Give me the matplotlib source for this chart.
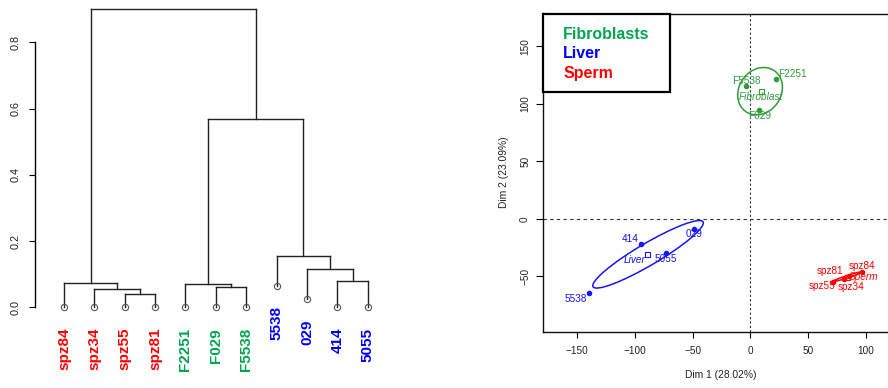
import matplotlib
matplotlib.use("Agg")
import matplotlib.pyplot as plt
from matplotlib.patches import Ellipse, Rectangle

plt.rcParams['font.family'] = ['Liberation Sans', 'DejaVu Sans']

# ---------------- Dendrogram data ----------------
leaf_labels = ["spz84", "spz34", "spz55", "spz81", "F2251", "F029", "F5538",
               "5538", "029", "414", "5055"]
leaf_groups = ["Sperm"] * 4 + ["Fibroblasts"] * 3 + ["Liver"] * 4
leaf_heights = [0, 0, 0, 0, 0, 0, 0, 0.065, 0.026, 0, 0]
# merges: (child_a, child_b, height); children are leaf names or "cN" cluster ids
merges = [
    ("spz55", "spz81", 0.039),   # c1
    ("spz34", "c1", 0.056),      # c2
    ("spz84", "c2", 0.0725),     # c3
    ("F029", "F5538", 0.061),    # c4
    ("F2251", "c4", 0.070),      # c5
    ("414", "5055", 0.0795),     # c6
    ("029", "c6", 0.116),        # c7
    ("5538", "c7", 0.155),       # c8
    ("c5", "c8", 0.568),         # c9
    ("c3", "c9", 0.900),         # c10 (root)
]
dend_ticks = [0.0, 0.2, 0.4, 0.6, 0.8]

# ---------------- PCA data ----------------
groups = ["Fibroblasts", "Liver", "Sperm"]
centroid_names = ["Fibroblast", "Liver", "Sperm"]
fib_names = ["F2251", "F5538", "F029"]
fib_x = [22.3, -4.0, 7.8]
fib_y = [121.8, 115.4, 94.3]
liv_names = ["414", "029", "5055", "5538"]
liv_x = [-95.0, -49.1, -72.8, -140.1]
liv_y = [-21.9, -8.9, -30.0, -64.7]
spz_names = ["spz84", "spz34", "spz81", "spz55"]
spz_x = [97.1, 86.0, 81.0, 72.0]
spz_y = [-46.2, -50.0, -52.0, -55.0]
centroid_x = [9.3, -89.3, 83.6]
centroid_y = [111.0, -30.6, -50.3]
# confidence ellipses: centre, width, height, angle
ell_cx = [8.5, -88.6, 84.1]
ell_cy = [111.0, -30.8, -50.3]
ell_w = [43.3, 110.8, 27.4]
ell_h = [36.4, 19.0, 2.0]
ell_ang = [55, 30.6, 18]
x_ticks = [-150, -100, -50, 0, 50, 100]
y_ticks = [-50, 0, 50, 100, 150]
x_label = "Dim 1 (28.02%)"
y_label = "Dim 2 (23.09%)"

# label offsets in pixels (dx, dy up)
fib_off = [(16, 5), (1, 5.5), (0, -6)]
liv_off = [(-10.5, 5), (0, -4.5), (0, -6), (-13, -5.5)]
spz_off = [(0, 6), (2, -10.5), (-14, 8), (-11, -3.5)]
cen_off = [(0, -6), (-12.5, -6), (17, -0.5)]

dend_colors = {"Sperm": "#FF0000", "Fibroblasts": "#00A550", "Liver": "#0000FF"}
pca_colors = {"Fibroblasts": "#2E9B3A", "Liver": "#1515FF", "Sperm": "#FF0000"}
legend_colors = {"Fibroblasts": "#00A550", "Liver": "#0000FF", "Sperm": "#FF0000"}

W, H = 888, 388
fig = plt.figure(figsize=(W / 100, H / 100), dpi=100)

def px_axes(left, top, right, bottom):
    return fig.add_axes([left / W, (H - bottom) / H, (right - left) / W, (bottom - top) / H])

# ================= Left: dendrogram =================
axd = px_axes(35, 9.3, 400, 307.3)
xpos = {name: i + 1 for i, name in enumerate(leaf_labels)}
ypos = {name: h for name, h in zip(leaf_labels, leaf_heights)}
lc = "#222222"
for k, (a, b, h) in enumerate(merges):
    cid = "c%d" % (k + 1)
    xa, xb = xpos[a], xpos[b]
    axd.plot([xa, xa], [ypos[a], h], color=lc, lw=1, clip_on=False)
    axd.plot([xb, xb], [ypos[b], h], color=lc, lw=1, clip_on=False)
    axd.plot([xa, xb], [h, h], color=lc, lw=1, clip_on=False)
    xpos[cid] = (xa + xb) / 2
    ypos[cid] = h
lx = [xpos[n] for n in leaf_labels]
axd.plot(lx, leaf_heights, 'o', ms=4.5, mfc='none', mec='#555555', mew=0.8, clip_on=False)
for n, g, x, h in zip(leaf_labels, leaf_groups, lx, leaf_heights):
    axd.annotate(n, (x, h), xytext=(0, -20.5), textcoords='offset pixels',
                 rotation=90, ha='center', va='top', fontsize=11,
                 fontweight='bold', color=dend_colors[g], annotation_clip=False)
axd.set_xlim(1 - (64 - 35) / 30.37, 11 + (400 - 367.7) / 30.37)
axd.set_ylim(0, 0.9)
for s in ['top', 'right', 'bottom']:
    axd.spines[s].set_visible(False)
axd.spines['left'].set_bounds(0, 0.8)
axd.spines['left'].set_linewidth(1)
axd.set_xticks([])
axd.set_yticks(dend_ticks)
axd.set_yticklabels(["%.1f" % t for t in dend_ticks], rotation=90, va='center', fontsize=7.8,
                    color='#222222')
axd.tick_params(axis='y', length=4.3, width=0.8, pad=6)

# ================= Right: PCA =================
axp = px_axes(543.3, 13.5, 897.7, 331.5)
axp.set_xlim(-179.4, 127.8)
axp.set_ylim(-97.9, 178.5)
axp.axhline(0, color='#333333', lw=0.8, ls=(0, (3, 3)), zorder=1)
axp.axvline(0, color='#333333', lw=0.8, ls=(0, (2, 2)), zorder=1)

pts = [(fib_names, fib_x, fib_y, fib_off), (liv_names, liv_x, liv_y, liv_off),
       (spz_names, spz_x, spz_y, spz_off)]
for gi, g in enumerate(groups):
    c = pca_colors[g]
    names, xs, ys, offs = pts[gi]
    axp.add_patch(Ellipse((ell_cx[gi], ell_cy[gi]), ell_w[gi], ell_h[gi], angle=ell_ang[gi],
                          fill=False, ec=c, lw=1.1, zorder=2))
    axp.plot(xs, ys, 'o', ms=3.0, color=c, zorder=3)
    for n, x, y, o in zip(names, xs, ys, offs):
        axp.annotate(n, (x, y), xytext=o, textcoords='offset pixels', ha='center',
                     va='center', fontsize=7.2, color=c, zorder=4)
    axp.plot([centroid_x[gi]], [centroid_y[gi]], 's', ms=3.6, mfc='none', mec=c,
             mew=0.8, zorder=3)
    axp.annotate(centroid_names[gi], (centroid_x[gi], centroid_y[gi]), xytext=cen_off[gi],
                 textcoords='offset pixels', ha='center', va='center', fontsize=7.2,
                 style='italic', color=c, zorder=4)

axp.set_xticks(x_ticks)
axp.set_yticks(y_ticks)
axp.set_xticklabels([str(t).replace('-', '\u2212') for t in x_ticks], fontsize=7.2,
                    color='#222222')
axp.set_yticklabels([str(t).replace('-', '\u2212') for t in y_ticks], fontsize=7.2,
                    rotation=90, va='center', color='#222222')
axp.tick_params(axis='x', length=4.3, width=0.8, pad=6.0)
axp.tick_params(axis='y', length=5, width=0.8, pad=4.5)
for s in axp.spines.values():
    s.set_linewidth(1.0)
    s.set_color('#111111')
axp.set_xlabel(x_label, fontsize=7.4, color='#222222', labelpad=10)
axp.set_ylabel(y_label, fontsize=7.4, color='#222222', labelpad=8)

# legend box
axw = 897.7 - 543.3
axh = 331.5 - 13.5
def fx(p):
    return (p - 543.3) / axw
def fy(p):
    return (331.5 - p) / axh
axp.add_patch(Rectangle((0, fy(91.7)), fx(670) - 0, 1 - fy(91.7), transform=axp.transAxes,
                        fill=True, fc='white', ec='black', lw=1.6, zorder=5, clip_on=False))
for g, yy in zip(groups, [34.3, 53.5, 73.3]):
    axp.text(fx(563.3), fy(yy), g, transform=axp.transAxes, ha='left', va='center',
             fontsize=11.5, fontweight='bold', color=legend_colors[g], zorder=6)

fig.savefig("out.png", dpi=100)
